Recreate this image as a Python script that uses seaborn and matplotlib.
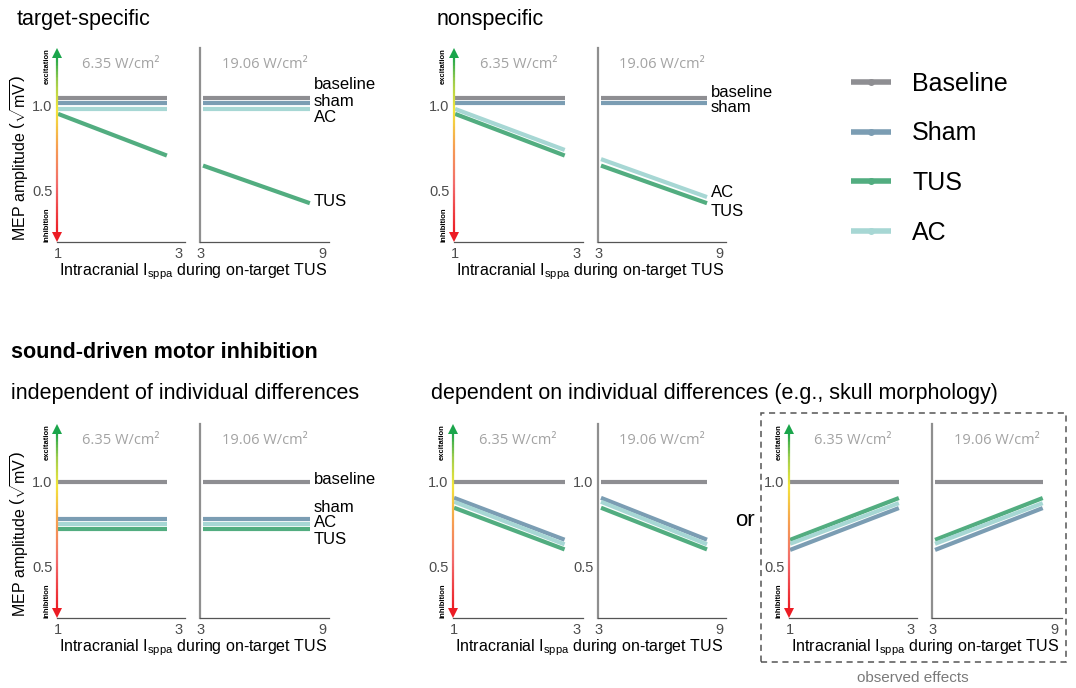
import numpy as np
import pandas as pd
import seaborn as sns
import matplotlib.pyplot as plt
from matplotlib.lines import Line2D
from matplotlib.patches import Rectangle
from matplotlib.collections import LineCollection
from matplotlib.colors import LinearSegmentedColormap

sns.set_style("white")
plt.rcParams["font.family"] = ["Liberation Sans", "DejaVu Sans"]
plt.rcParams["text.color"] = "black"
plt.rcParams["mathtext.fontset"] = "custom"
plt.rcParams["mathtext.rm"] = "Liberation Sans"
plt.rcParams["mathtext.it"] = "Liberation Sans:italic"
plt.rcParams["mathtext.bf"] = "Liberation Sans:bold"

W, H = 1076, 688

conditions = ["Baseline", "Sham", "TUS", "AC"]
colors = ["#8e8e92", "#7b9db3", "#52ad80", "#a7d7d4"]
palette = dict(zip(conditions, colors))

# intensity range covered by the lines (low = 6.35, high = 19.06 W/cm2)
x_low = [1.0, 2.8]
x_high = [3.1, 8.4]
ticks_low = [1, 3]
ticks_high = [3, 9]
intensity_titles = ["6.35 W/cm²", "19.06 W/cm²"]

# MEP amplitude (sqrt mV) at start / end of each line
# target-specific
ts_low = {"Baseline": [1.045, 1.045], "Sham": [1.016, 1.016], "AC": [0.982, 0.982], "TUS": [0.953, 0.708]}
ts_high = {"Baseline": [1.045, 1.045], "Sham": [1.016, 1.016], "AC": [0.982, 0.982], "TUS": [0.649, 0.428]}
# nonspecific
ns_low = {"Baseline": [1.045, 1.045], "Sham": [1.016, 1.016], "AC": [0.982, 0.741], "TUS": [0.953, 0.708]}
ns_high = {"Baseline": [1.045, 1.045], "Sham": [1.016, 1.016], "AC": [0.687, 0.464], "TUS": [0.649, 0.428]}
# sound-driven, independent of individual differences
ind_low = {"Baseline": [1.0, 1.0], "Sham": [0.783, 0.783], "AC": [0.753, 0.753], "TUS": [0.721, 0.721]}
ind_high = {"Baseline": [1.0, 1.0], "Sham": [0.783, 0.783], "AC": [0.753, 0.753], "TUS": [0.721, 0.721]}
# sound-driven, dependent on individual differences
dep_low = {"Baseline": [1.0, 1.0], "Sham": [0.906, 0.66], "AC": [0.883, 0.633], "TUS": [0.848, 0.603]}
dep_high = {"Baseline": [1.0, 1.0], "Sham": [0.906, 0.66], "AC": [0.883, 0.633], "TUS": [0.848, 0.603]}
# observed effects
obs_low = {"Baseline": [1.0, 1.0], "Sham": [0.60, 0.846], "AC": [0.636, 0.875], "TUS": [0.659, 0.905]}
obs_high = {"Baseline": [1.0, 1.0], "Sham": [0.60, 0.846], "AC": [0.636, 0.875], "TUS": [0.659, 0.905]}

grad = LinearSegmentedColormap.from_list(
    "exc", [(0, "#ec1c24"), (0.28, "#f26c6c"), (0.5, "#f6a150"), (0.7, "#f3e63a"),
            (0.86, "#9fcd4c"), (1, "#1aa54b")])

fig = plt.figure(figsize=(W / 100, H / 100), dpi=100)


def to_long(xs, values):
    rows = []
    for cond in conditions:
        for x, y in zip(xs, values[cond]):
            rows.append((cond, x, y))
    return pd.DataFrame(rows, columns=["condition", "intensity", "mep"])


def add_arrow(ax):
    n = 120
    ys = np.linspace(0.04, 0.96, n + 1)
    segs = [[(0, ys[i]), (0, ys[i + 1])] for i in range(n)]
    lc = LineCollection(segs, colors=grad(np.linspace(0, 1, n)), lw=1.6,
                        transform=ax.transAxes, clip_on=False, zorder=5)
    ax.add_collection(lc)
    ax.plot(0, 0.972, marker="^", ms=7.5, color=grad(1.0), mew=0,
            transform=ax.transAxes, clip_on=False, zorder=6)
    ax.plot(0, 0.028, marker="v", ms=7.5, color=grad(0.0), mew=0,
            transform=ax.transAxes, clip_on=False, zorder=6)
    ax.text(-0.08, 1.0, "excitation", rotation=90, ha="center", va="top",
            fontsize=5.5, fontweight="bold", transform=ax.transAxes)
    ax.text(-0.08, 0.0, "inhibition", rotation=90, ha="center", va="bottom",
            fontsize=5.5, fontweight="bold", transform=ax.transAxes)


def panel(x0, x1, y0, y1, xs, values, xlim, xticks, title, left, ylabels):
    ax = fig.add_axes([x0 / W, 1 - y1 / H, (x1 - x0) / W, (y1 - y0) / H])
    ax.patch.set_alpha(0)
    sns.lineplot(data=to_long(xs, values), x="intensity", y="mep", hue="condition",
                 hue_order=conditions, palette=palette, lw=3, legend=False, ax=ax,
                 solid_capstyle="butt")
    ax.set_xlim(xlim)
    ax.set_ylim(0.2, 1.34)
    ax.set_xticks(xticks)
    ax.set_yticks([0.5, 1.0])
    if not ylabels:
        ax.set_yticklabels([])
    ax.set_xlabel("")
    ax.set_ylabel("")
    ax.spines["top"].set_visible(False)
    ax.spines["right"].set_visible(False)
    ax.spines["bottom"].set_color("#555555")
    ax.spines["bottom"].set_linewidth(0.9)
    if left:
        ax.spines["left"].set_visible(False)
        add_arrow(ax)
    else:
        ax.spines["left"].set_color("#8f8f8f")
        ax.spines["left"].set_linewidth(1.6)
    ax.tick_params(length=2.5, width=0.8, color="#555555", labelcolor="#4d4d4d",
                   labelsize=10.5, pad=0.8)
    ax.text(0.5, 0.915, title, transform=ax.transAxes, ha="center", va="center",
            family="Open Sans", fontsize=10.5, color="#a3a3a3")
    return ax


def group(xl, xr, y0, y1, low, high, right_ylabels=False):
    a1 = panel(xl[0], xl[1], y0, y1, x_low, low, (0.983, 3.1), ticks_low,
               intensity_titles[0], True, True)
    a2 = panel(xr[0], xr[1], y0, y1, x_high, high, (2.95, 9.35), ticks_high,
               intensity_titles[1], False, right_ylabels)
    xc = (xl[0] + xr[1]) / 2
    fig.text(xc / W, 1 - (y1 + 30) / H,
             r"Intracranial I$_{\mathregular{sppa}}$ during on-target TUS",
             ha="center", va="center", fontsize=11.5)
    return a1, a2


def direct_labels(ax, names, ys):
    for name, y in zip(names, ys):
        ax.text(8.6, y, name, fontsize=12, ha="left", va="center", clip_on=False)


# top row
_, ax = group((57, 185), (200, 329), 48, 242, ts_low, ts_high)
direct_labels(ax, ["baseline", "sham", "AC", "TUS"], [1.124, 1.024, 0.929, 0.437])
_, ax = group((454, 583), (598, 726), 48, 242, ns_low, ns_high)
direct_labels(ax, ["baseline", "sham", "AC", "TUS"], [1.078, 0.988, 0.488, 0.382])

# bottom row
_, ax = group((57, 185), (200, 329), 424, 618, ind_low, ind_high)
direct_labels(ax, ["baseline", "sham", "AC", "TUS"], [1.013, 0.851, 0.762, 0.662])
group((453, 583), (598, 726), 424, 618, dep_low, dep_high, right_ylabels=True)
group((789, 917), (932, 1062), 424, 618, obs_low, obs_high)

# y labels
ylab = r"MEP amplitude $\left(\sqrt{\mathregular{mV}}\right)$"
fig.text(20 / W, 1 - 158 / H, ylab, rotation=90, ha="center", va="center", fontsize=11.5)
fig.text(20 / W, 1 - 534 / H, ylab, rotation=90, ha="center", va="center", fontsize=11.5)

# headings
fig.text(17 / W, 1 - 20 / H, "target-specific", fontsize=15.5, va="center")
fig.text(437 / W, 1 - 20 / H, "nonspecific", fontsize=15.5, va="center")
fig.text(11 / W, 1 - 353 / H, "sound-driven motor inhibition", fontsize=15.5,
         fontweight="bold", va="center")
fig.text(11 / W, 1 - 393 / H, "independent of individual differences", fontsize=15.5, va="center")
fig.text(431 / W, 1 - 393 / H, "dependent on individual differences (e.g., skull morphology)",
         fontsize=15.5, va="center")
fig.text(745 / W, 1 - 520 / H, "or", fontsize=16, ha="center", va="center")

# observed effects box
fig.add_artist(Rectangle((761 / W, 1 - 662 / H), (1066 - 761) / W, (662 - 413) / H,
                         transform=fig.transFigure, fill=False, ec="#555555", lw=1.1,
                         ls=(0, (4, 3))))
fig.text(913 / W, 1 - 678 / H, "observed effects", fontsize=11, color="#7a7a7a",
         ha="center", va="center")

# legend
handles = [Line2D([], [], color=c, lw=4, marker="o", ms=4, solid_capstyle="butt")
           for c in colors]
fig.legend(handles, conditions, loc="upper left", bbox_to_anchor=(851 / W, 1 - 72 / H),
           frameon=False, fontsize=18, handlelength=1.6, handletextpad=0.85,
           labelspacing=1.02, borderpad=0, borderaxespad=0)

fig.savefig("out.png", dpi=100)
